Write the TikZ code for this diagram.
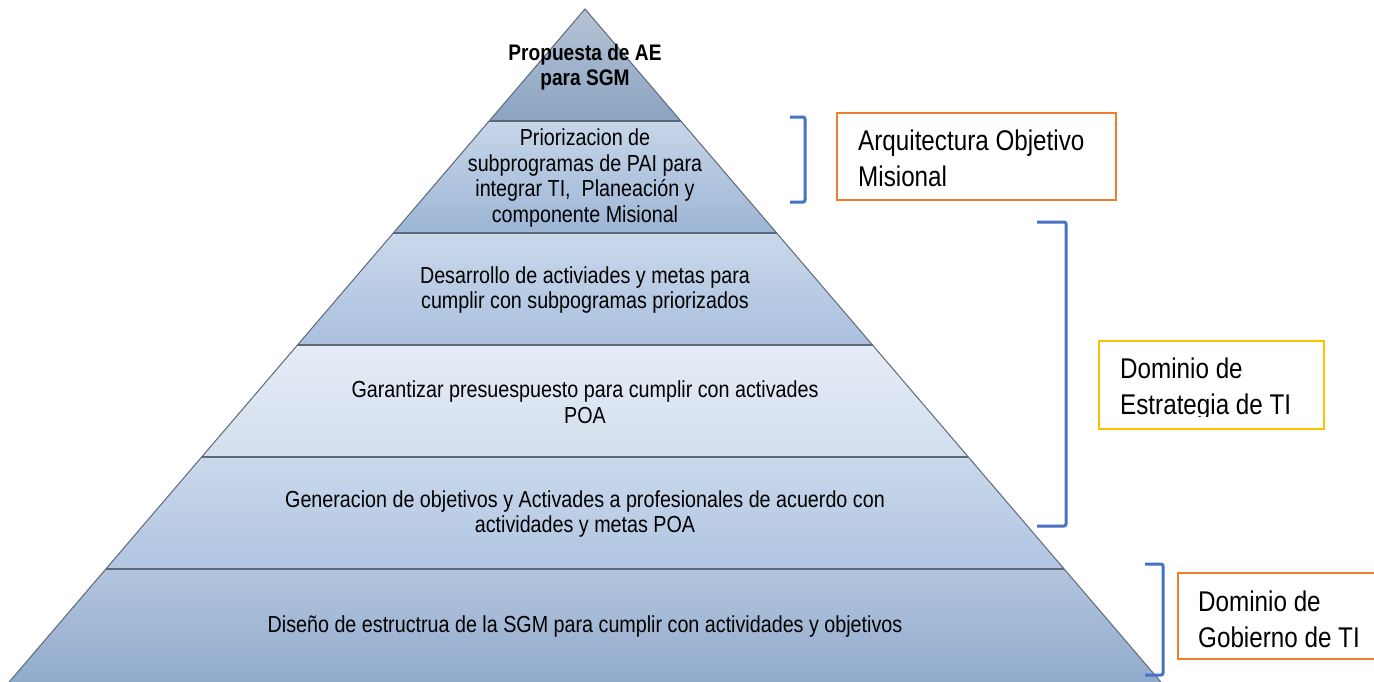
\documentclass[tikz,border=0pt]{standalone}
\usepackage{fontspec}
\setmainfont[FakeStretch=0.85]{Liberation Sans}
\definecolor{brk}{HTML}{4472C4}
\definecolor{org}{HTML}{ED7D31}
\definecolor{ylw}{HTML}{FFC000}
\definecolor{edge}{HTML}{5E6876}
\definecolor{aT}{HTML}{B6C4D6}\definecolor{aB}{HTML}{8BA3C1}
\definecolor{bT}{HTML}{C7D6E9}\definecolor{bB}{HTML}{9CB5D5}
\definecolor{cT}{HTML}{CAD8EB}\definecolor{cB}{HTML}{AAC0DE}
\definecolor{dT}{HTML}{E5ECF6}\definecolor{dB}{HTML}{D3DFEE}
\definecolor{eT}{HTML}{CAD8EB}\definecolor{eB}{HTML}{B0C5E1}
\definecolor{fT}{HTML}{B3C5DD}\definecolor{fB}{HTML}{8FA9CC}
\newcommand{\hw}[1]{0.855655*(#1-9)}
\newcommand{\pyrlayer}[4]{%
  \shade[top color=#3,bottom color=#4]
    ({585-\hw{#1}},-#1) -- ({585+\hw{#1}},-#1) -- ({585+\hw{#2}},-#2) -- ({585-\hw{#2}},-#2) -- cycle;
  \draw[edgeline] ({585-\hw{#1}},-#1) -- ({585+\hw{#1}},-#1);}
\begin{document}
\begin{tikzpicture}[x=1pt,y=1pt,
  edgeline/.style={draw=edge,line width=1.3pt},
  ptext/.style={align=center,inner sep=0pt,font=\fontsize{23.2}{25.5}\selectfont},
  btext/.style={anchor=base west,inner sep=0pt,font=\fontsize{28.5}{35.7}\selectfont},
  brkline/.style={draw=brk,line width=3pt,rounded corners=2pt},
  boxline/.style={line width=2.2pt}]
\useasboundingbox (0,0) rectangle (1374,-681);
\clip (0,0) rectangle (1374,-681);
\fill[white] (0,0) rectangle (1374,-681);
% pyramid
\shade[top color=aT,bottom color=aB] (585,-9) -- ({585+\hw{121}},-121) -- ({585-\hw{121}},-121) -- cycle;
\pyrlayer{121}{233}{bT}{bB}
\pyrlayer{233}{345}{cT}{cB}
\pyrlayer{345}{457}{dT}{dB}
\pyrlayer{457}{569}{eT}{eB}
\pyrlayer{569}{690}{fT}{fB}
\draw[draw=edge,line width=1pt] ({585-\hw{690}},-690) -- (585,-9) -- ({585+\hw{690}},-690);
% pyramid texts
\node[ptext,font=\bfseries\fontsize{22.5}{25.5}\selectfont] (t0) at (585,-67) {Propuesta de AE\\para SGM};
\node[ptext] (t1) at (585,-178) {Priorizacion de\\subprogramas de PAI para\\integrar TI,~ Planeación y\\componente Misional};
\node[ptext] (t2) at (585,-290) {Desarrollo de activiades y metas para\\cumplir con subpogramas priorizados};
\node[ptext] (t3) at (585,-402) {Garantizar presuespuesto para cumplir con activades\\POA};
\node[ptext] (t4) at (585,-514) {Generacion de objetivos y Activades a profesionales de acuerdo con\\actividades y metas POA};
\node[ptext] (t5) at (585,-626) {Diseño de estructrua de la SGM para cumplir con actividades y objetivos};
% brackets
\draw[brkline] (790,-117) -- (805,-117) -- (805,-202) -- (790,-202);
\draw[brkline] (1037,-222) -- (1066,-222) -- (1066,-526) -- (1037,-526);
\draw[brkline] (1145,-564) -- (1163,-564) -- (1163,-675) -- (1145,-675);
% boxes
\node[draw=org,boxline,fill=white,anchor=north west,minimum width=279pt,minimum height=87pt,inner sep=0pt] (b1) at (836,-112) {};
\node[btext] (b1a) at (858,-150) {Arquitectura Objetivo};
\node[btext] (b1b) at (858,-186) {Misional};
\node[draw=ylw,boxline,fill=white,anchor=north west,minimum width=225pt,minimum height=88pt,inner sep=0pt] (b2) at (1098,-340) {};
\node[btext] (b2a) at (1120,-378) {Dominio de};
\begin{scope}
\clip (1100,-380) rectangle (1320,-416);
\node[btext] (b2b) at (1120,-414) {Estrategia de TI};
\end{scope}
\node[draw=org,boxline,fill=white,anchor=north west,minimum width=230pt,minimum height=86pt,inner sep=0pt] (b3) at (1177,-572) {};
\node[btext] (b3a) at (1198,-611) {Dominio de};
\node[btext] (b3b) at (1198,-647) {Gobierno de TI};
\end{tikzpicture}
\end{document}
